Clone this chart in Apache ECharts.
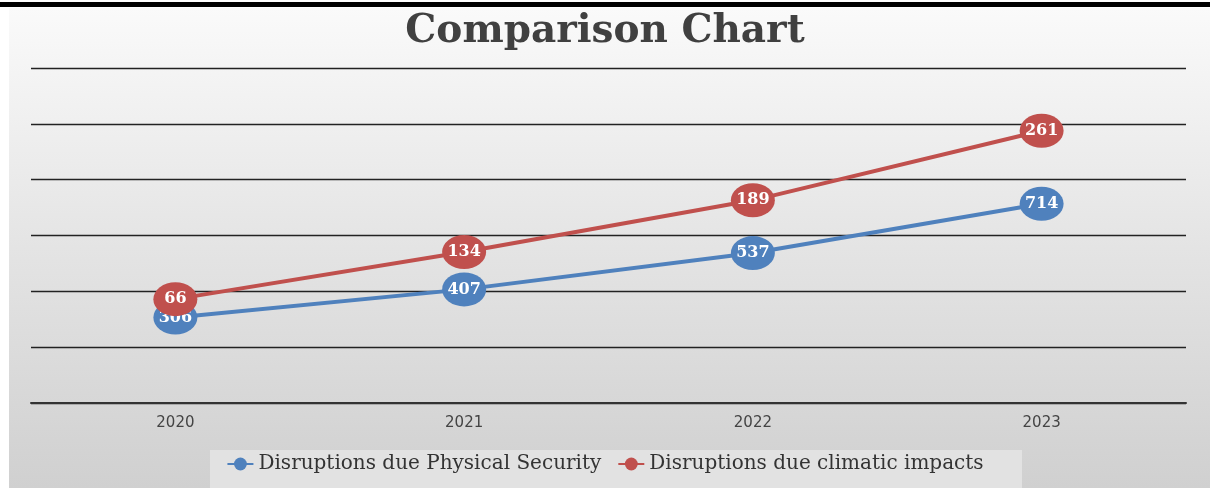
<!DOCTYPE html>
<html><head><meta charset="utf-8">
<script src="https://cdn.jsdelivr.net/npm/echarts@6/dist/echarts.min.js"></script>
<style>html,body{margin:0;padding:0;background:#fff}#c{width:1210px;height:488px}</style>
</head><body><div id="c"></div>
<script>
const categories = ['2020', '2021', '2022', '2023'];
const physicalSecurity = [306, 407, 537, 714];
const climaticImpacts = [66, 134, 189, 261];
const seriesNames = ['Disruptions due Physical Security', 'Disruptions due climatic impacts'];
const titleText = 'Comparison Chart';

const chart = echarts.init(document.getElementById('c'));
const labelStyle = {
  show: true, position: 'inside', color: '#fff', fontFamily: 'DejaVu Serif',
  fontWeight: 'bold', fontSize: 16, formatter: p => p.value
};
chart.setOption({
  animation: false,
  graphic: [
    { type: 'rect', z: -10, shape: { x: 9, y: 8, width: 1201, height: 480 },
      style: { fill: new echarts.graphic.LinearGradient(0, 0, 0, 1, [
        { offset: 0, color: '#fafafa' }, { offset: 0.5, color: '#e4e4e4' }, { offset: 1, color: '#d0d0d0' }]) } },
    { type: 'rect', z: -9, shape: { x: 0, y: 2, width: 1210, height: 5 }, style: { fill: '#000' } },
    { type: 'rect', z: -9, shape: { x: 210, y: 450, width: 812, height: 38 }, style: { fill: '#e2e2e2' } }
  ],
  title: {
    text: titleText, left: 'center', top: 7,
    textStyle: { fontFamily: 'DejaVu Serif', fontWeight: 'bold', fontSize: 39, color: '#404040' }
  },
  grid: { left: 31, right: 24, top: 68, bottom: 85 },
  legend: {
    bottom: 9, left: 'center', itemWidth: 26, itemHeight: 16, itemGap: 16,
    textStyle: { fontFamily: 'DejaVu Serif', fontSize: 20, color: '#333' },
    data: seriesNames
  },
  xAxis: {
    type: 'category', data: categories, boundaryGap: true,
    axisLine: { lineStyle: { color: '#333', width: 2 } },
    axisTick: { show: false },
    axisLabel: { color: '#444', fontSize: 15, fontFamily: 'DejaVu Sans', margin: 13 }
  },
  yAxis: {
    type: 'value', min: 0, max: 1200, interval: 200,
    axisLabel: { show: false }, axisLine: { show: false }, axisTick: { show: false },
    splitLine: { lineStyle: { color: '#222', width: 1.3 } }
  },
  series: [
    { name: seriesNames[0], type: 'line', stack: 'total', data: physicalSecurity,
      color: '#4f81bd', lineStyle: { width: 4 }, symbol: 'circle', symbolSize: [44, 34],
      label: labelStyle, z: 3 },
    { name: seriesNames[1], type: 'line', stack: 'total', data: climaticImpacts,
      color: '#c0504d', lineStyle: { width: 4 }, symbol: 'circle', symbolSize: [44, 34],
      label: labelStyle, z: 4 }
  ]
});
</script></body></html>
